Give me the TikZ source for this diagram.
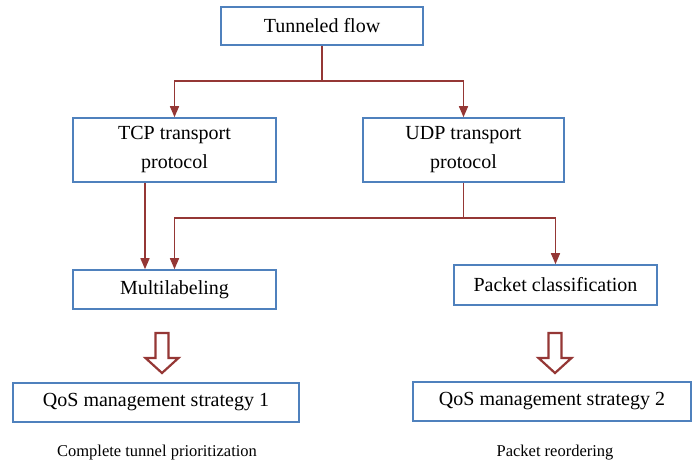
\documentclass[tikz,border=0pt]{standalone}
\usepackage{fontspec}
\setmainfont{Liberation Serif}
\usetikzlibrary{arrows.meta}
\definecolor{boxblue}{RGB}{79,129,189}
\definecolor{arrred}{RGB}{149,55,53}
\tikzset{
  box/.style={draw=boxblue, line width=1.6pt, fill=white, inner sep=0pt, align=center,
    font=\fontsize{20}{29}\selectfont},
  conn/.style={draw=arrred, line width=1.5pt},
  arr/.style={conn, -{Triangle[width=9pt,length=11pt]}},
  hollow/.style={draw=arrred, line width=2.2pt, fill=white, line join=miter},
  caption/.style={font=\fontsize{16.5}{20}\selectfont, inner sep=0pt}
}
\begin{document}
\begin{tikzpicture}[x=1pt,y=-1pt]
\useasboundingbox (0,0) rectangle (692,466);
\node[box, minimum width=202pt, minimum height=38pt] (tf) at (322,26) {Tunneled flow};
\node[box, minimum width=203pt, minimum height=64pt] (tcp) at (174.5,150) {TCP transport\\protocol};
\node[box, minimum width=201pt, minimum height=64pt] (udp) at (463.5,150) {UDP transport\\protocol};
\node[box, minimum width=203pt, minimum height=39pt] (ml) at (174.5,289.5) {Multilabeling};
\node[box, minimum width=203pt, minimum height=40pt] (pc) at (555.5,285) {Packet classification};
\node[box, minimum width=286pt, minimum height=39pt] (q1) at (156,402.5) {QoS management strategy 1};
\node[box, minimum width=278pt, minimum height=39pt] (q2) at (552,401.5) {QoS management strategy 2};
\node[caption] (c1) at (157,453) {Complete tunnel prioritization};
\node[caption] (c2) at (555,453) {Packet reordering};

\coordinate (j1) at (322,81);
\draw[conn] (tf.south) -- (j1);
\draw[arr] (j1) -| (tcp.north);
\draw[arr] (j1) -| (udp.north);
\draw[arr] ([xshift=-29.5pt]tcp.south) -- ([xshift=-29.5pt]ml.north);
\coordinate (j2) at (463.5,218);
\draw[conn] (udp.south) -- (j2);
\draw[arr] (j2) -| (ml.north);
\draw[arr] (j2) -| (pc.north);

\foreach \cx in {162,555}{
  \draw[hollow] (\cx-6.5,333) -- (\cx+6.5,333) -- (\cx+6.5,358) -- (\cx+16.5,358)
    -- (\cx,373) -- (\cx-16.5,358) -- (\cx-6.5,358) -- cycle;
}
\end{tikzpicture}
\end{document}
